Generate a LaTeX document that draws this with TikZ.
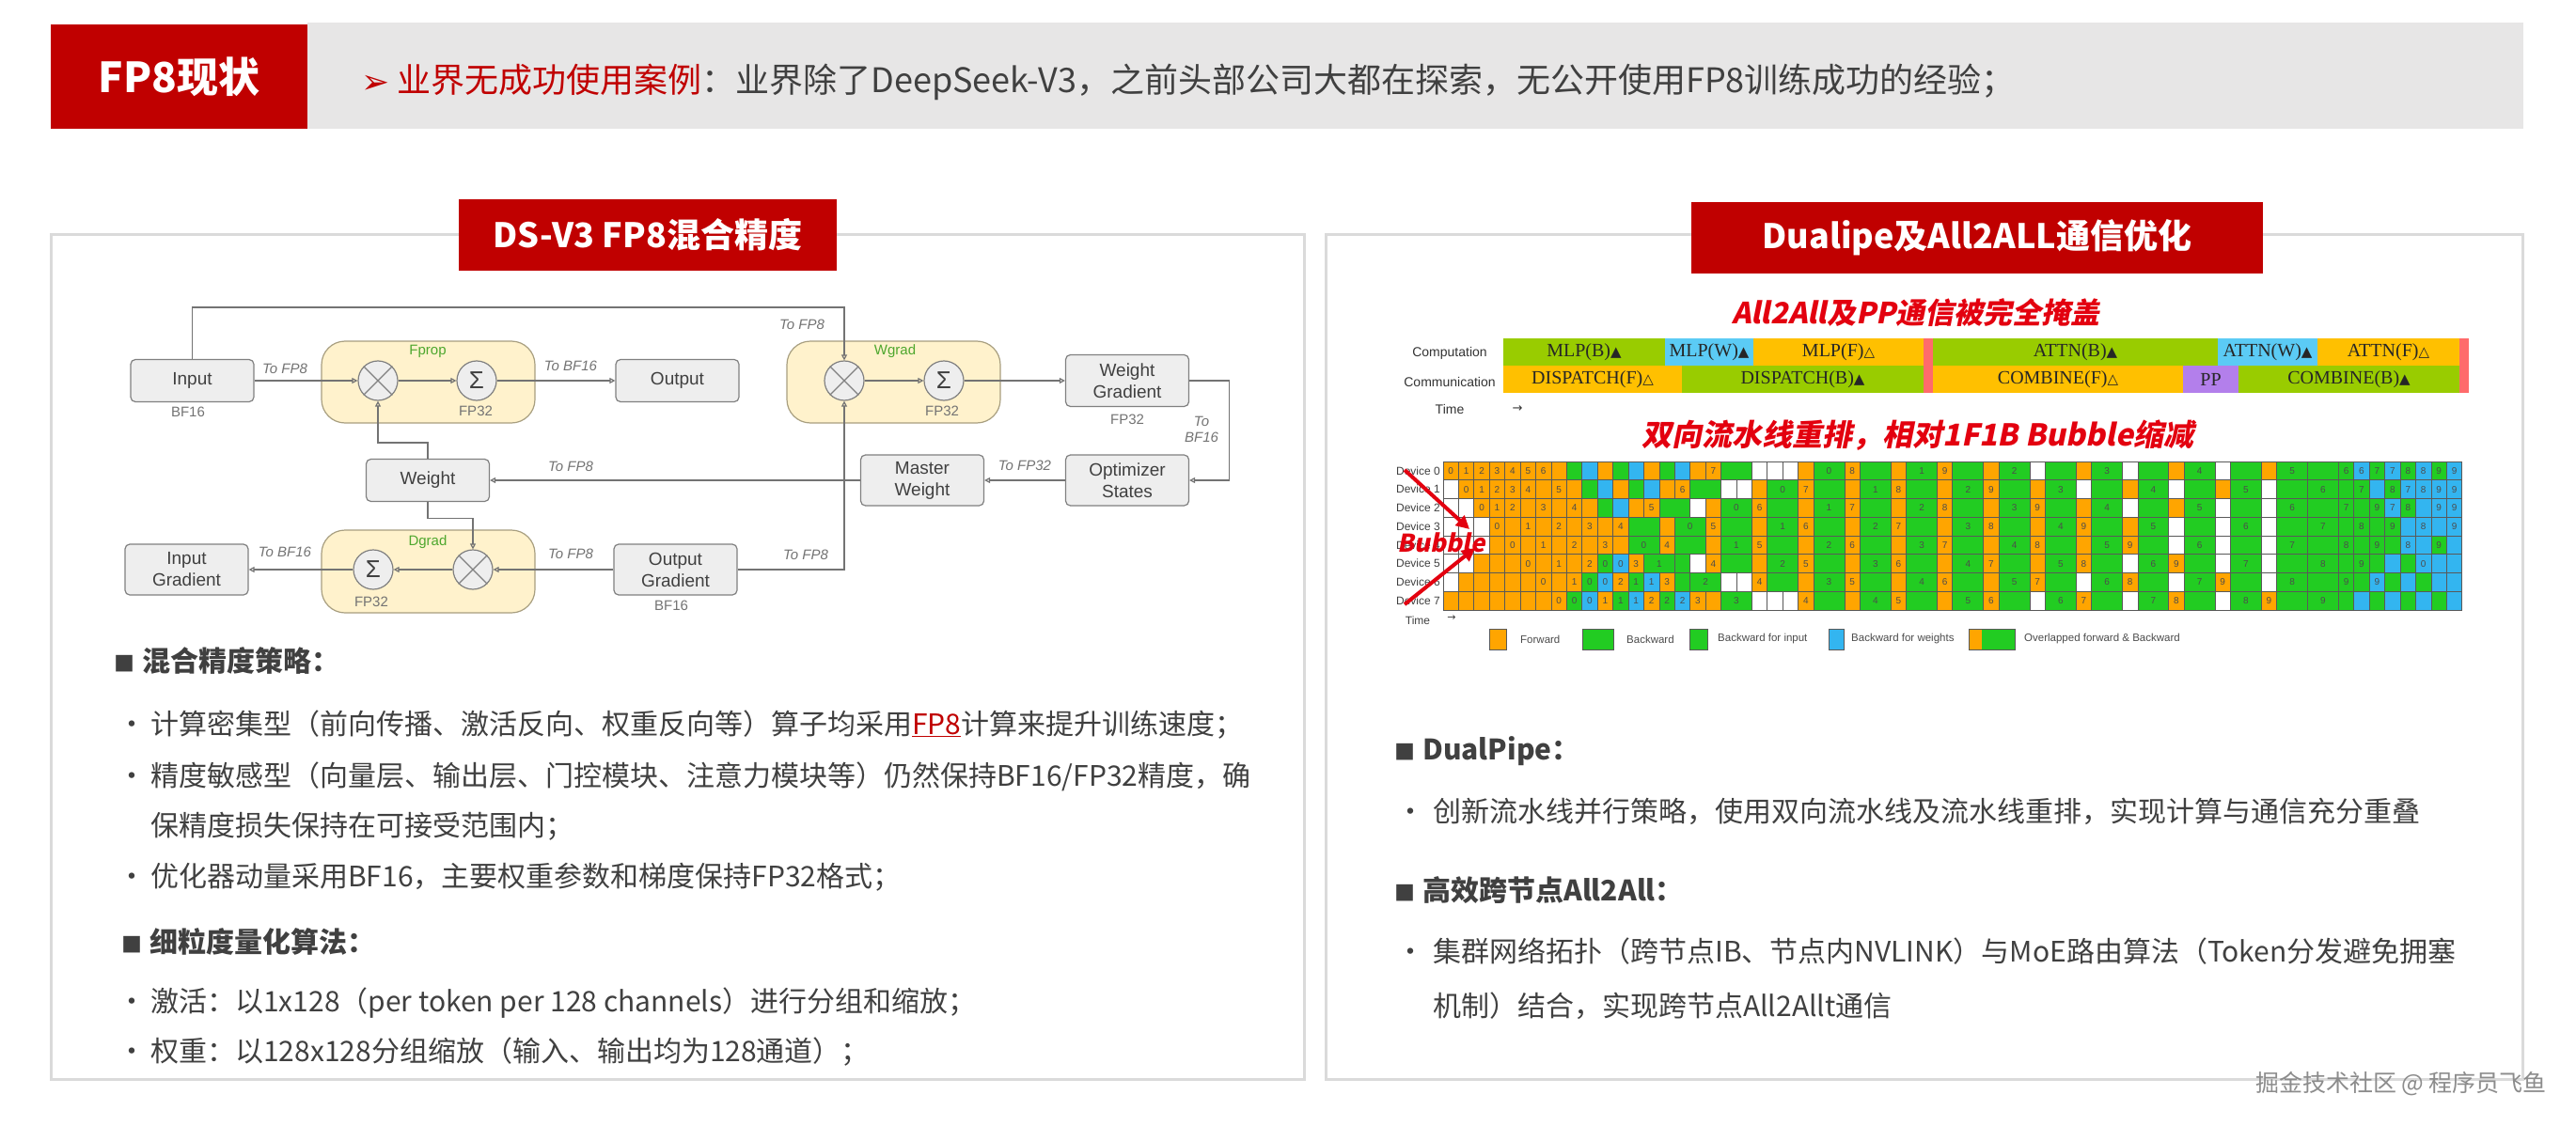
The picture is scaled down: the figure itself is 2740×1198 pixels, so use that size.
\documentclass[tikz,border=0pt]{standalone}
\usepackage{fontspec}
\setmainfont{Noto Sans CJK SC}
\newfontfamily\arial{Liberation Sans}
\newfontfamily\tnr{Liberation Serif}
\newfontfamily\symf{DejaVu Sans}
\newfontfamily\redit{Noto Sans CJK SC}[FakeSlant=0.2,BoldFeatures={FakeSlant=0.2}]
\usetikzlibrary{arrows.meta,positioning,calc}

\newcommand\fsz[2]{\fontsize{#1}{#2}\selectfont}
\newcommand\tri{{\symf\fsz{15}{15}▲}}
\newcommand\otri{{\symf\fsz{15}{15}△}}

\definecolor{hdred}{HTML}{C00000}
\definecolor{hdgray}{HTML}{E7E6E6}
\definecolor{txt}{HTML}{404040}
\definecolor{panel}{HTML}{DADADA}
\definecolor{boxfill}{HTML}{EEEEEE}
\definecolor{boxline}{HTML}{808080}
\definecolor{grpfill}{HTML}{FFF2CC}
\definecolor{grpline}{HTML}{A89F80}
\definecolor{lblgreen}{HTML}{4EA72E}
\definecolor{bigred}{HTML}{E3000F}
\definecolor{barg}{HTML}{99CC00}
\definecolor{baro}{HTML}{FFC000}
\definecolor{barc}{HTML}{5BCBF5}
\definecolor{barp}{HTML}{B37FEB}
\definecolor{barr}{HTML}{FF6B6B}
\definecolor{ppor}{HTML}{FFA500}
\definecolor{ppgr}{HTML}{22CC22}
\definecolor{ppcy}{HTML}{33B5F0}

% cell widths of the pipeline grid
\def\ppwo{1}\def\ppwg{1}\def\ppwG{2}\def\ppww{1}\def\ppwc{1}
\newcommand\pprow[2]{%
  \xdef\ppcol{0}%
  \foreach \t/\n [count=\k] in {#2}{%
    \pgfmathsetmacro\ppa{\ppcol}%
    \pgfmathsetmacro\ppb{\ppcol+\csname ppw\t\endcsname}%
    \path[ppcell,pp\t] ({1535+\ppa*16.42},{491+#1*19.75}) rectangle ({1535+\ppb*16.42},{491+(#1+1)*19.75});
    \node[ppnum] (pp#1-\k) at ({1535+(\ppa+\ppb)/2*16.42},{491+(#1+0.5)*19.75}) {\n};
    \xdef\ppcol{\ppb}%
  }%
}

\begin{document}
\begin{tikzpicture}[x=1pt,y=-1pt,
  blk/.style={draw=boxline, fill=boxfill, rounded corners=5, minimum width=131, minimum height=45, align=center, inner sep=0, font=\arial\fsz{19}{23}, text=txt, line width=1.2},
  grp/.style={draw=grpline, fill=grpfill, rounded corners=25, inner sep=0, line width=1.2},
  op/.style={circle, draw=boxline, fill=boxfill, minimum size=42, inner sep=0, line width=1.2, font=\arial\fsz{26}{26}, text=txt},
  tag/.style={font=\arial\itshape\fsz{15}{17}, text=black!55},
  prec/.style={font=\arial\fsz{15}{17}, text=black!55},
  grptag/.style={font=\arial\fsz{15}{17}, text=lblgreen},
  conn/.style={draw=black!55, line width=1.2, -{Triangle[open,length=6,width=6]}},
  ttlbox/.style={fill=hdred, text=white, minimum height=75, inner sep=0, font=\bfseries\fsz{36}{40}},
  body/.style={anchor=base west, inner sep=0, font=\fsz{30}{36}, text=txt},
  head/.style={body, font=\bfseries\fsz{30}{36}},
  bartxt/.style={font=\tnr\fsz{20}{20}, text=black!85, inner sep=0},
  lbl/.style={font=\arial\fsz{14}{14}, text=black!80},
  ppcell/.style={draw=black!65, line width=0.8},
  ppo/.style={fill=ppor}, ppg/.style={fill=ppgr}, ppG/.style={fill=ppgr},
  ppw/.style={fill=white}, ppc/.style={fill=ppcy},
  ppnum/.style={font=\arial\fsz{10}{10}, text=black!70, inner sep=0},
  leg/.style={font=\arial\fsz{11.5}{12}, text=black!70, anchor=west, inner sep=0},
  bubarrow/.style={draw=bigred, line width=4, -{Triangle[length=14,width=14]}}
  ]
\useasboundingbox (0,0) rectangle (2740,1198);
\fill[white] (0,0) rectangle (2740,1198);

% header
\fill[hdgray] (327,24) rectangle (2684,137);
\node[fill=hdred, minimum width=273, minimum height=111, inner sep=0] (hdbox) at (190.5,81.5) {};
\node[anchor=base, text=white, font=\bfseries\fsz{44}{44}] (hdttl) at (190.5,99) {FP8现状};
\node[anchor=base west, inner sep=0, font=\fsz{36}{40}, text=hdred] (hdtxt) at (384,99)
  {{\symf\fsz{36}{36}\raisebox{-1pt}{➢}}\hspace{8pt}业界无成功使用案例\textcolor{txt}{：业界除了DeepSeek-V3，之前头部公司大都在探索，无公开使用FP8训练成功的经验；}};

% panels
\draw[panel, line width=3] (54,250) rectangle (1387,1148);
\draw[panel, line width=3] (1410,250) rectangle (2683,1148);
\node[ttlbox, minimum width=402] (ttlL) at (689,250) {DS-V3 FP8混合精度};
\node[ttlbox, minimum width=608] (ttlR) at (2103,253) {Dualipe及All2ALL通信优化};

% mixed precision flow
\node[grp, minimum width=227, minimum height=87] (fbox) at (455.5,406.5) {};
\node[grp, minimum width=227, minimum height=88] (dbox) at (455.5,608) {};
\node[grp, minimum width=227, minimum height=87] (wbox) at (950.5,406.5) {};
\node[grptag] (fprop) at (455,374) {Fprop};
\node[grptag] (dgrad) at (455,577) {Dgrad};
\node[grptag] (wgrad) at (952,374) {Wgrad};

\node[blk] (in) at (204.5,405) {Input};
\node[blk] (out) at (720.5,405) {Output};
\node[blk] (wt) at (455,511) {Weight};
\node[blk, minimum height=54] (ingrad) at (198.5,606) {Input\\Gradient};
\node[blk, minimum height=54] (outgrad) at (718.5,606) {Output\\Gradient};
\node[blk, minimum height=55] (wgrd) at (1199,405) {Weight\\Gradient};
\node[blk, minimum height=54] (opt) at (1199,511) {Optimizer\\States};
\node[blk, minimum height=54] (mst) at (981,511) {Master\\Weight};

\node[op] (fmul) at (402,405) {};
\node[op] (fsum) at (507,405) {Σ};
\node[op] (dmul) at (503,606) {};
\node[op] (dsum) at (397,606) {Σ};
\node[op] (wmul) at (898,405) {};
\node[op] (wsum) at (1004,405) {Σ};
\foreach \m in {fmul,dmul,wmul}
  \draw[boxline, line width=1.2] (\m.north west) -- (\m.south east) (\m.north east) -- (\m.south west);

\draw[conn] (in) -- (fmul);
\draw[conn] (fmul) -- (fsum);
\draw[conn] (fsum) -- (out);
\draw[conn] (wt.north) -- ++(0,-17) -| (fmul.south);
\draw[conn] (wt.south) -- ++(0,17) -| (dmul.north);
\draw[conn] (mst) -- (wt);
\draw[conn] (opt) -- (mst);
\draw[conn] (wgrd.east) -- ++(42,0) |- (opt.east);
\draw[conn] (wmul) -- (wsum);
\draw[conn] (wsum) -- (wgrd);
\draw[conn] (in.north) -- ++(0,-55) -| (wmul.north);
\draw[conn] (outgrad.east) -| (wmul.south);
\draw[conn] (outgrad) -- (dmul);
\draw[conn] (dmul) -- (dsum);
\draw[conn] (dsum) -- (ingrad);

\node[tag] (t1) at (303,392) {To FP8};
\node[prec] (p1) at (200,438) {BF16};
\node[prec] (p2) at (506,437) {FP32};
\node[tag] (t2) at (607,389) {To BF16};
\node[tag] (t3) at (607,496) {To FP8};
\node[prec] (p3) at (395,640) {FP32};
\node[tag] (t4) at (607,589) {To FP8};
\node[prec] (p4) at (714,644) {BF16};
\node[tag] (t5) at (303,587) {To BF16};
\node[tag] (t6) at (853,345) {To FP8};
\node[prec] (p5) at (1002,437) {FP32};
\node[prec] (p6) at (1199,446) {FP32};
\node[tag, align=center] (t7) at (1278,457) {To\\BF16};
\node[tag] (t8) at (1090,495) {To FP32};
\node[tag] (t9) at (857,590) {To FP8};

% left notes
\node[head] (h1) at (121,714) {{\fsz{22}{22}■}\hspace{8pt}混合精度策略：};
\node[body] (b1) at (125,781) {\makebox[35pt][l]{•}计算密集型（前向传播、激活反向、权重反向等）算子均采用{\color{hdred}\underline{FP8}}计算来提升训练速度；};
\node[body] (b2) at (125,836) {\makebox[35pt][l]{•}精度敏感型（向量层、输出层、门控模块、注意力模块等）仍然保持BF16/FP32精度，确};
\node[body] (b2b) at (160,889) {保精度损失保持在可接受范围内；};
\node[body] (b3) at (125,943) {\makebox[35pt][l]{•}优化器动量采用BF16，主要权重参数和梯度保持FP32格式；};
\node[head] (h2) at (129,1013) {{\fsz{22}{22}■}\hspace{8pt}细粒度量化算法：};
\node[body] (b4) at (125,1076) {\makebox[35pt][l]{•}激活：以1x128（per token per 128 channels）进行分组和缩放；};
\node[body] (b5) at (125,1129) {\makebox[35pt][l]{•}权重：以128x128分组缩放（输入、输出均为128通道）；};

% overlap chart
\node[font=\redit\bfseries\fsz{31}{31}, text=bigred] (cap1) at (2038,333) {All2All及PP通信被完全掩盖};
\foreach \a/\b/\c/\s [count=\k] in {1599/1771/barg/MLP(B)\tri, 1771/1865/barc/MLP(W)\tri, 1865/2046/baro/MLP(F)\otri,
    2056/2359/barg/ATTN(B)\tri, 2359/2465/barc/ATTN(W)\tri, 2465/2616/baro/ATTN(F)\otri}{
  \fill[\c] (\a,360) rectangle (\b,389);
  \node[bartxt] (cp\k) at ({(\a+\b)/2},375) {\s};
}
\foreach \a/\b/\c/\s [count=\k] in {1599/1789/baro/DISPATCH(F)\otri, 1789/2046/barg/DISPATCH(B)\tri,
    2056/2322/baro/COMBINE(F)\otri, 2322/2381/barp/PP, 2381/2616/barg/COMBINE(B)\tri}{
  \fill[\c] (\a,389) rectangle (\b,418);
  \node[bartxt] (cm\k) at ({(\a+\b)/2},404) {\s};
}
\fill[barr] (2046,360) rectangle (2056,418);
\fill[barr] (2616,360) rectangle (2626,418);
\node[lbl] (comp) at (1542,376) {Computation};
\node[lbl] (comm) at (1542,406) {Communication};
\node[lbl] (time1) at (1542,435) {Time};
\node[lbl, font=\symf\fsz{13}{13}] (tarr1) at (1614,435) {→};

% dualpipe schedule
\node[font=\redit\bfseries\fsz{32}{32}, text=bigred] (cap2) at (2040,463) {双向流水线重排，相对1F1B Bubble缩减};
\foreach \i in {0,...,7}
  \node[font=\arial\fsz{12}{12}, text=black!75, anchor=east, inner sep=0] (dev\i) at (1532,{491+(\i+0.5)*19.75}) {Device \i};
\pprow{0}{o/0,o/1,o/2,o/3,o/4,o/5,o/6,o/,g/,c/,o/,g/,c/,o/,g/,c/,o/,o/7,G/,w/,w/,w/,o/,G/0,o/8,G/,o/,G/1,o/9,G/,o/,G/2,w/,G/,o/,G/3,w/,G/,o/,G/4,w/,G/,o/,G/5,G/,g/6,c/6,g/7,c/7,g/8,c/8,g/9,c/9}
\pprow{1}{w/,o/0,o/1,o/2,o/3,o/4,o/,o/5,o/,g/,c/,o/,g/,c/,o/,o/6,G/,w/,w/,o/,G/0,o/7,G/,o/,G/1,o/8,G/,o/,G/2,o/9,G/,o/,G/3,w/,G/,o/,G/4,w/,G/,o/,G/5,w/,G/,G/6,g/,g/7,c/,g/8,c/7,c/8,c/9,c/9}
\pprow{2}{w/,w/,o/0,o/1,o/2,o/,o/3,o/,o/4,o/,g/,c/,o/,o/5,G/,w/,o/,G/0,o/6,G/,o/,G/1,o/7,G/,o/,G/2,o/8,G/,o/,G/3,o/9,G/,o/,G/4,w/,G/,o/,G/5,w/,G/,w/,G/6,G/,g/7,g/,g/9,c/7,g/8,c/,c/9,c/9}
\pprow{3}{w/,w/,w/,o/0,o/,o/1,o/,o/2,o/,o/3,o/,o/4,G/,o/,G/0,o/5,G/,o/,G/1,o/6,G/,o/,G/2,o/7,G/,o/,G/3,o/8,G/,o/,G/4,o/9,G/,o/,G/5,w/,G/,w/,G/6,w/,G/,G/7,g/,g/8,g/,g/9,c/,c/8,c/,c/9}
\pprow{4}{w/,w/,w/,o/,o/0,o/,o/1,o/,o/2,o/,o/3,o/,G/0,o/4,G/,o/,G/1,o/5,G/,o/,G/2,o/6,G/,o/,G/3,o/7,G/,o/,G/4,o/8,G/,o/,G/5,o/9,G/,w/,G/6,w/,G/,w/,G/7,G/,g/8,g/,g/9,g/,c/8,c/,g/9,c/}
\pprow{5}{w/,w/,o/,o/,o/,o/0,o/,o/1,o/,o/2,g/0,c/0,o/3,G/1,g/,w/,o/4,G/,o/,G/2,o/5,G/,o/,G/3,o/6,G/,o/,G/4,o/7,G/,o/,G/5,o/8,G/,w/,G/6,o/9,G/,w/,G/7,w/,G/,G/8,g/,g/9,g/,c/,g/,c/0,c/,c/}
\pprow{6}{w/,o/,o/,o/,o/,o/,o/0,o/,o/1,g/0,c/0,o/2,g/1,c/1,o/3,g/,G/2,w/,w/,o/4,G/,o/,G/3,o/5,G/,o/,G/4,o/6,G/,o/,G/5,o/7,G/,w/,G/6,o/8,G/,w/,G/7,o/9,G/,w/,G/8,G/,g/9,g/,c/9,g/,c/,g/,c/,c/}
\pprow{7}{o/,o/,o/,o/,o/,o/,o/,o/0,g/0,c/0,o/1,g/1,c/1,o/2,g/2,c/2,o/3,o/,G/3,w/,w/,w/,o/4,G/,o/,G/4,o/5,G/,o/,G/5,o/6,G/,w/,G/6,o/7,G/,w/,G/7,o/8,G/,w/,G/8,o/9,G/,G/9,g/,c/,g/,c/,g/,c/,g/,c/}
\node[font=\arial\fsz{12}{12}, text=black!75] (time2) at (1508,660) {Time};
\node[font=\symf\fsz{11}{11}, text=black!75] (tarr2) at (1544,658) {→};

% legend
\draw[ppcell, fill=ppor] (1584,669) rectangle (1602,691);
\node[leg] (lgF) at (1617,680) {Forward};
\draw[ppcell, fill=ppgr] (1683,669) rectangle (1716,691);
\node[leg] (lgB) at (1730,680) {Backward};
\draw[ppcell, fill=ppgr] (1797,669) rectangle (1816,691);
\node[leg] (lgI) at (1827,680) {Backward for input};
\draw[ppcell, fill=ppcy] (1945,669) rectangle (1961,691);
\node[leg] (lgW) at (1969,680) {Backward for weights};
\fill[ppor] (2094,669) rectangle (2108,691);
\fill[ppgr] (2108,669) rectangle (2143,691);
\draw[ppcell] (2094,669) rectangle (2143,691);
\node[leg] (lgO) at (2153,680) {Overlapped forward \& Backward};

% bubble marker
\node[font=\redit\bfseries\fsz{26}{26}, text=bigred, inner sep=0] (bub) at (1533,577) {Bubble};
\coordinate (bubA) at (1494,500);
\coordinate (bubB) at (1563,563);
\coordinate (bubC) at (1494,643);
\coordinate (bubD) at (1569,583);
\draw[bubarrow] (bubA) -- (bubB);
\draw[bubarrow] (bubC) -- (bubD);

% right notes
\node[head] (h3) at (1483,808) {{\fsz{22}{22}■}\hspace{8pt}DualPipe：};
\node[body] (b6) at (1485,874) {\makebox[39pt][l]{•}创新流水线并行策略，使用双向流水线及流水线重排，实现计算与通信充分重叠};
\node[head] (h4) at (1483,958) {{\fsz{22}{22}■}\hspace{8pt}高效跨节点All2All：};
\node[body] (b7) at (1485,1023) {\makebox[39pt][l]{•}集群网络拓扑（跨节点IB、节点内NVLINK）与MoE路由算法（Token分发避免拥塞};
\node[body] (b7b) at (1524,1081) {机制）结合，实现跨节点All2Allt通信};

\node[font=\fsz{25}{25}, text=black!45] (wm) at (2554,1153) {掘金技术社区 @ 程序员飞鱼};
\end{tikzpicture}
\end{document}
